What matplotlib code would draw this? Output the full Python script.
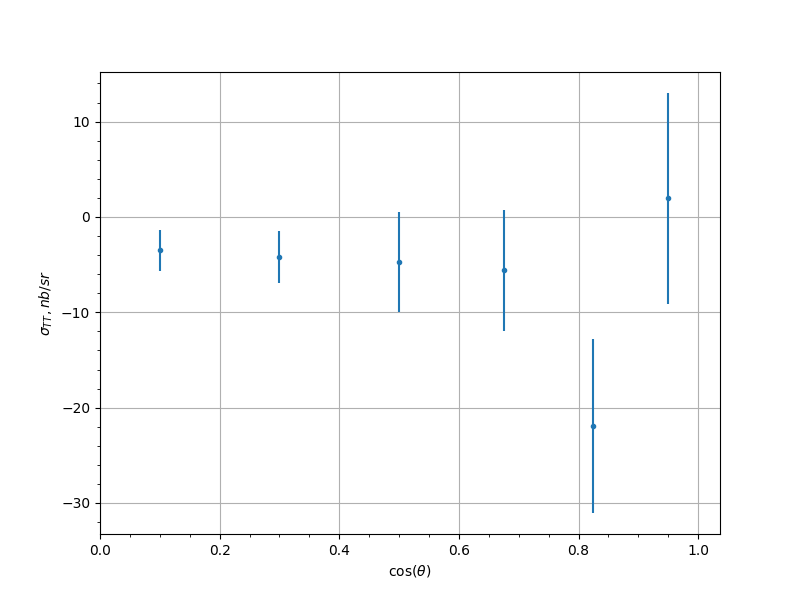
import matplotlib
matplotlib.use("Agg")
import matplotlib.pyplot as plt

cos_theta = [0.1, 0.3, 0.5, 0.675, 0.825, 0.95]
sigma_tt = [-3.5, -4.2, -4.72, -5.6, -21.95, 1.95]
sigma_err = [2.13, 2.7, 5.25, 6.33, 9.1, 11.05]

fig, ax = plt.subplots(figsize=(8, 6), dpi=100)
ax.errorbar(cos_theta, sigma_tt, yerr=sigma_err, fmt='.')
ax.set_xlim(0, 1.0365)
ax.minorticks_on()
ax.grid(True, which='major')
ax.set_xlabel(r'$\cos(\theta)$')
ax.set_ylabel(r'$\sigma_{TT}, nb/sr$')
fig.savefig('out.png', dpi=100)
